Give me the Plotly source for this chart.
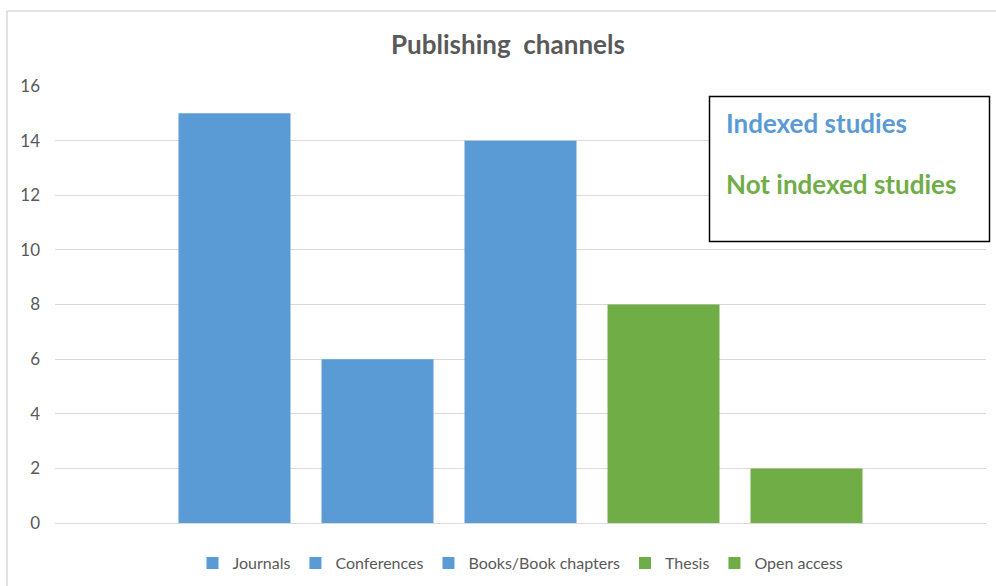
import plotly.graph_objects as go

categories = ["Journals", "Conferences", "Books/Book chapters", "Thesis", "Open access"]
values = [15, 6, 14, 8, 2]
colors = ["#5B9BD5", "#5B9BD5", "#5B9BD5", "#70AD47", "#70AD47"]
group_label = ["Publishing channels"]

W, H = 996, 586
L, R, T, B = 55, 10, 86, 63
pw = W - L - R
ph = H - T - B

def px(x):
    return (x - L) / pw

def py(y):
    return (H - B - y) / ph

fig = go.Figure()
for name, v, c in zip(categories, values, colors):
    fig.add_trace(go.Bar(x=group_label, y=[v], name=name, marker=dict(color=c, line=dict(width=0))))

font = "Lato, 'Open Sans', sans-serif"
fig.update_layout(
    width=W, height=H,
    margin=dict(l=L, r=R, t=T, b=B, autoexpand=False),
    paper_bgcolor="white", plot_bgcolor="white",
    barmode="group", bargap=0.232, bargroupgap=0.217,
    font=dict(family=font, color="#595959", size=16),
    title=dict(text="<b>Publishing  channels</b>", x=0.51, xanchor="center",
               y=1 - 45 / H, yanchor="middle",
               font=dict(size=26, color="#595959", family=font)),
    xaxis=dict(showticklabels=False, showgrid=False, zeroline=False, showline=False, ticks=""),
    yaxis=dict(range=[0, 16], dtick=2, showgrid=True, gridcolor="#D9D9D9", gridwidth=1,
               zeroline=True, zerolinecolor="#D9D9D9", zerolinewidth=1,
               showline=False, ticks="", ticklabelstandoff=14,
               tickfont=dict(size=17, color="#595959")),
    legend=dict(orientation="h", x=0.5, xanchor="center", yref="container", y=1 - 563 / H,
                yanchor="middle", font=dict(size=16, color="#595959"), itemwidth=30,
                tracegroupgap=0),
    showlegend=True,
)

# outer chart border (left and top)
fig.add_shape(type="line", xref="paper", yref="paper", x0=px(7), x1=px(7), y0=py(586), y1=py(11),
              line=dict(color="#D9D9D9", width=1.5))
fig.add_shape(type="line", xref="paper", yref="paper", x0=px(7), x1=px(996), y0=py(11), y1=py(11),
              line=dict(color="#D9D9D9", width=1.5))

# annotation box
fig.add_shape(type="rect", xref="paper", yref="paper", x0=px(709.5), x1=px(989.5), y0=py(241.5), y1=py(96.5),
              line=dict(color="black", width=1.5), fillcolor="white", layer="above")
fig.add_annotation(xref="paper", yref="paper", x=px(724), y=py(123), xanchor="left", yanchor="middle",
                   text="<b>Indexed studies</b>", showarrow=False,
                   font=dict(size=26, color="#5B9BD5", family=font))
fig.add_annotation(xref="paper", yref="paper", x=px(724), y=py(184), xanchor="left", yanchor="middle",
                   text="<b>Not indexed studies</b>", showarrow=False,
                   font=dict(size=26, color="#70AD47", family=font))

fig.write_html("out.html", config={"displayModeBar": False},
               post_script="document.body.style.margin='0';document.body.style.overflow='hidden';")
